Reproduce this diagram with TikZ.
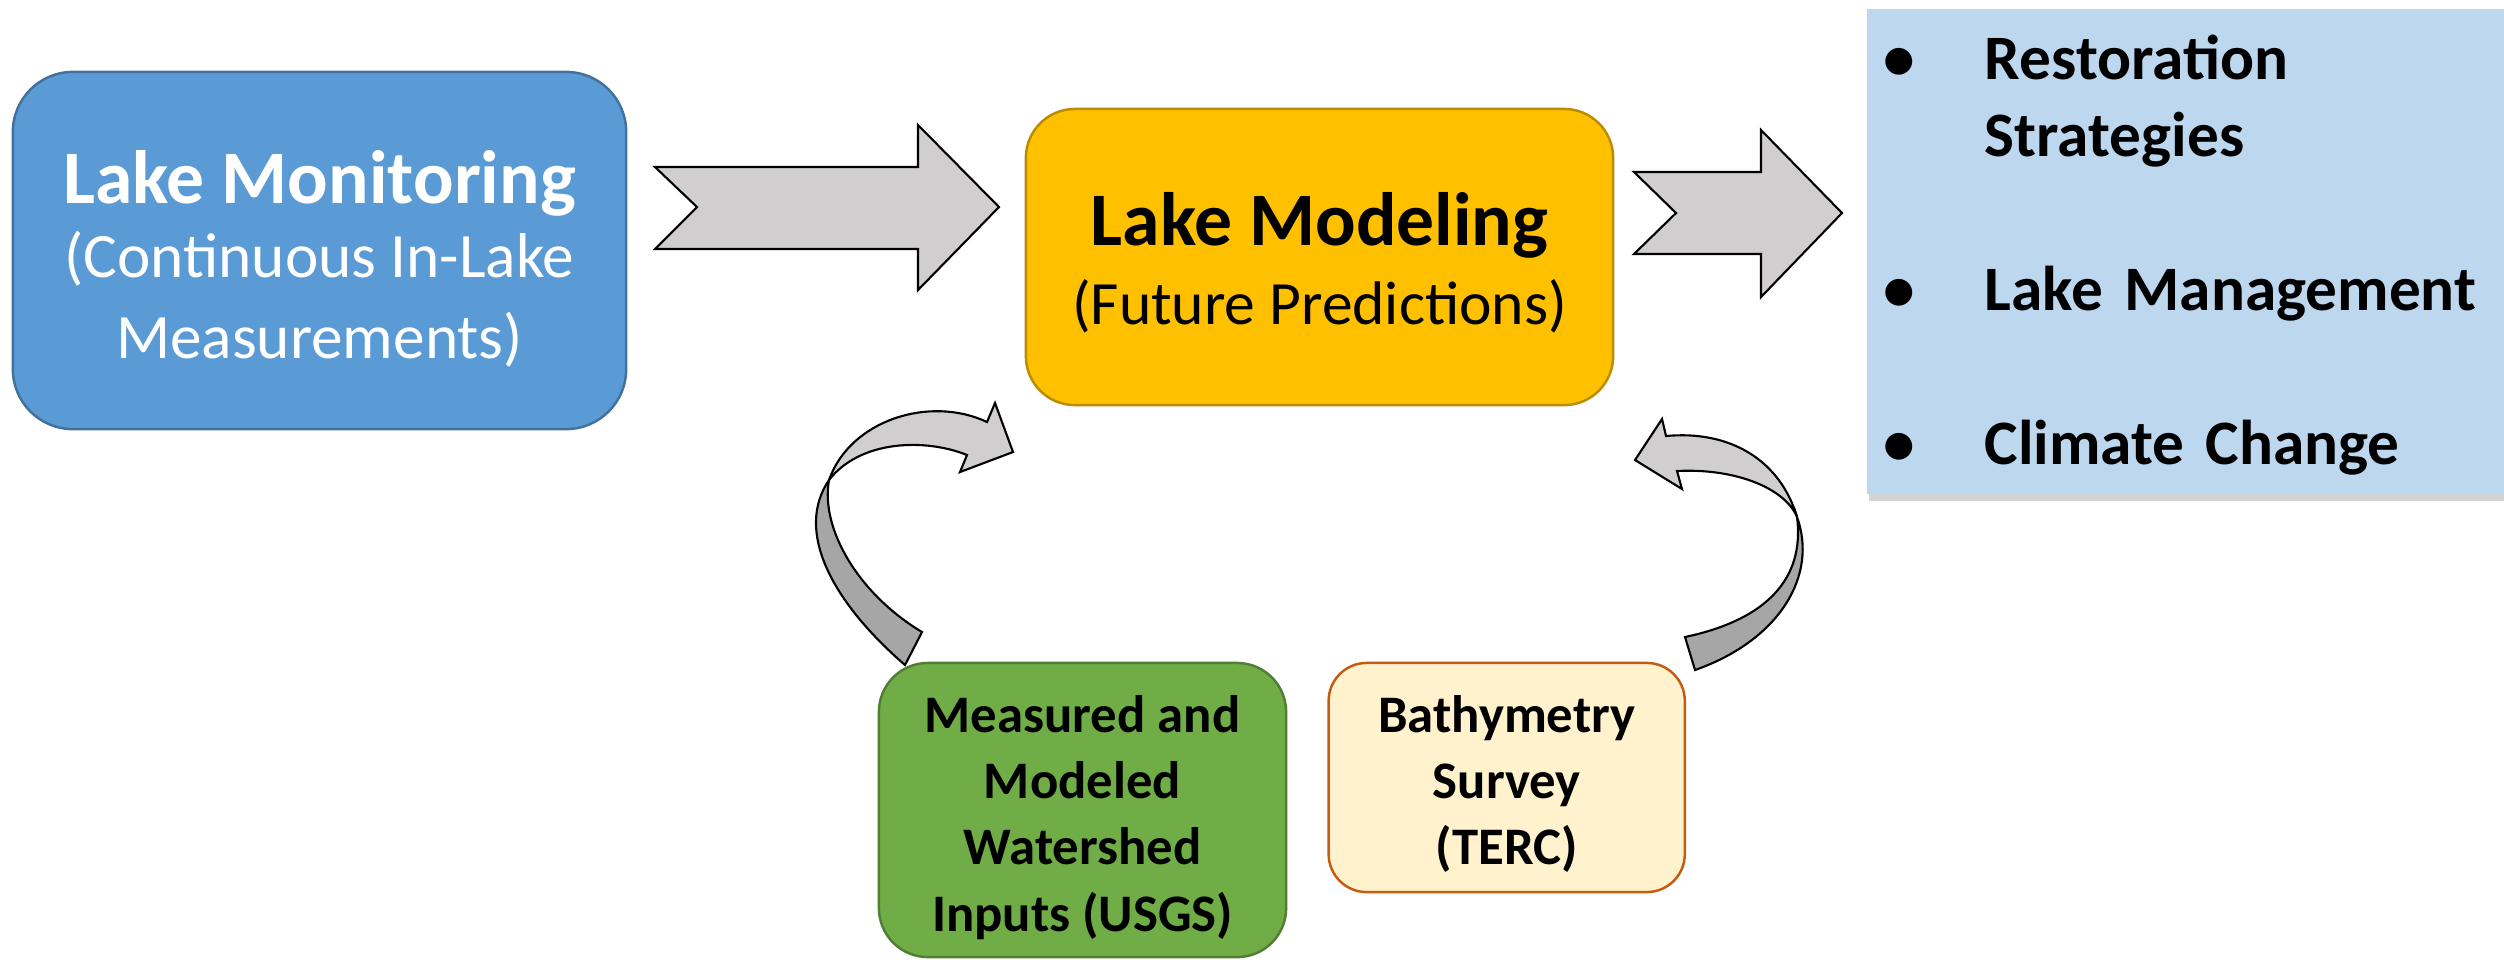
\documentclass[tikz,border=0pt]{standalone}
\usepackage{fontspec}
\setmainfont{Carlito}
\usepackage{tikz}
\usetikzlibrary{shadows}
\usepackage{xcolor}

\definecolor{monblue}{HTML}{5B9BD5}
\definecolor{monedge}{HTML}{41719C}
\definecolor{modgold}{HTML}{FFC000}
\definecolor{modedge}{HTML}{BC8C00}
\definecolor{useblue}{HTML}{BDD7EE}
\definecolor{wsgreen}{HTML}{70AD47}
\definecolor{wsedge}{HTML}{507E32}
\definecolor{bathy}{HTML}{FFF2CC}
\definecolor{bathyedge}{HTML}{C55A11}
\definecolor{arrowgray}{HTML}{D0CECE}
\definecolor{arrowdark}{HTML}{A6A6A6}

\begin{document}
\begin{tikzpicture}[x=0.01cm, y=-0.01cm, box/.style={rectangle, rounded corners=#1, draw, line width=0.7pt, align=center, inner sep=0pt}, fat/.style={draw=black, line width=0.6pt, fill=arrowgray, line join=miter}, back/.style={draw=black, line width=0.6pt, fill=arrowdark}]

                \useasboundingbox (0,0) rectangle (2504,959);

                \node[box=0.6cm, fill=monblue, draw=monedge, text=white, minimum width=6.13cm, minimum height=3.57cm, font=\fontsize{18}{23}\selectfont] (A) at (319.5,250.5) {\rule{0pt}{20pt}{\fontsize{21.5}{24}\selectfont\bfseries Lake Monitoring}\\[-2pt](Continuous In-Lake\\Measurements)};
                \node[box=0.49cm, fill=modgold, draw=modedge, minimum width=5.87cm, minimum height=2.96cm, font=\fontsize{17.5}{22.5}\selectfont] (B) at (1319.5,257) {\rule{0pt}{18.2pt}{\fontsize{21.5}{24}\selectfont\bfseries Lake Modeling}\\(Future Predictions)};
                \node[fill=useblue, anchor=north west, minimum width=6.5cm, minimum height=4.85cm, text width=6.5cm, inner sep=0pt, align=left, drop shadow={shadow xshift=0.6pt, shadow yshift=-2pt, opacity=0.35}, font=\fontsize{18}{21.9}\selectfont\bfseries] (C) at (1866,8) {%
                    \begin{tabular}{@{\hspace{4.8pt}}p{28.8pt}@{}l@{}}
                    \rule{0pt}{18.1pt}\textbullet & Restoration\\
                                & Strategies\\
                                & \\
                    \textbullet & Lake Management\\
                                & \\
                    \textbullet & Climate Change
                    \end{tabular}};

                \node[box=0.49cm, fill=wsgreen, draw=wsedge, minimum width=4.07cm, minimum height=2.94cm, font=\fontsize{15}{18.8}\selectfont\bfseries] (W) at (1082.5,810) {\rule{0pt}{14.8pt}Measured and\\Modeled\\Watershed\\Inputs (USGS)};
                \node[box=0.38cm, fill=bathy, draw=bathyedge, minimum width=3.56cm, minimum height=2.29cm, anchor=north west, font=\fontsize{15}{18.8}\selectfont\bfseries] (T) at ([xshift=0.4cm]W.north east) {\rule{0pt}{14pt}Bathymetry\\Survey\\(TERC)};


                \draw[fat] (655,167) -- (918,167) -- (918,125) -- (999,207) -- (918,290) -- (918,249) -- (655,249) -- (697,207) -- cycle;
                \draw[fat] (1634,172) -- (1761,172) -- (1761,130) -- (1842,213) -- (1761,297) -- (1761,254) -- (1634,254) -- (1676,213) -- cycle;

                \draw[back] (905,665) .. controls (830,600) and (795,530) .. (829,480) .. controls (820,530) and (860,595) .. (922,632) -- cycle;
                \draw[fat] (829,480) .. controls (850,420) and (930,395) .. (987,422) -- (995,403) -- (1013,452) -- (960,472) -- (967,455) .. controls (925,438) and (860,440) .. (829,480) -- cycle;

                \draw[back] (1797,517) .. controls (1818,575) and (1780,640) .. (1695,670) -- (1685,637) .. controls (1765,620) and (1805,580) .. (1797,517) -- cycle;
                \draw[fat] (1797,517) .. controls (1780,460) and (1730,430) .. (1666,436) -- (1662,419) -- (1635,460) -- (1682,489) -- (1677,471) .. controls (1735,468) and (1785,488) .. (1797,517) -- cycle;

            \end{tikzpicture}
\end{document}
